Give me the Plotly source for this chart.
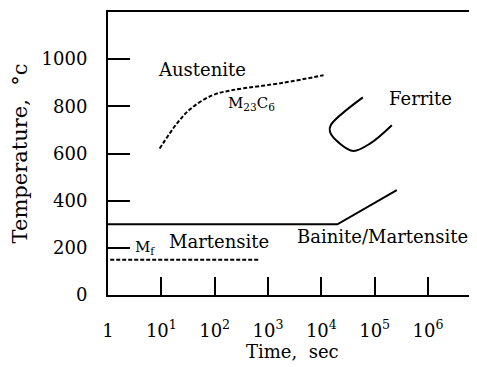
import plotly.graph_objects as go
import numpy as np

# Data (time in seconds, temperature in °C)
ms_time = [1, 2e4, 2.6e5]
ms_temp = [300, 300, 445]

mf_time = [1.1, 700]
mf_temp = [150, 150]

carbide_time = [9.3, 20, 36, 91, 220, 1950, 11000]
carbide_temp = [621, 730, 791, 847, 869, 900, 932]

ferrite_time = [60000, 15000, 14500, 22000, 40000, 83000, 210000]
ferrite_temp = [838, 720, 692, 643, 611, 643, 720]

xtick_vals = [1, 10, 100, 1000, 1e4, 1e5, 1e6]
xtick_text = ["1", "10<sup>1</sup>", "10<sup>2</sup>", "10<sup>3</sup>",
              "10<sup>4</sup>", "10<sup>5</sup>", "10<sup>6</sup>"]
ytick_vals = [0, 200, 400, 600, 800, 1000]

labels = [
    ("Austenite", 58, 955),
    ("Ferrite", 7.2e5, 835),
    ("Martensite", 123, 225),
    ("Bainite/Martensite", 1.4e5, 247),
]

FONT = "DejaVu Serif"

fig = go.Figure()
fig.add_trace(go.Scatter(x=ms_time, y=ms_temp, mode="lines",
                         line=dict(color="black", width=2)))
fig.add_trace(go.Scatter(x=mf_time, y=mf_temp, mode="lines",
                         line=dict(color="black", width=2, dash="4px,2px")))
fig.add_trace(go.Scatter(x=carbide_time, y=carbide_temp, mode="lines",
                         line=dict(color="black", width=2, dash="4px,2px", shape="spline")))
fig.add_trace(go.Scatter(x=ferrite_time, y=ferrite_temp, mode="lines",
                         line=dict(color="black", width=2, shape="spline")))

for txt, x, y in labels:
    fig.add_annotation(x=np.log10(x), y=y, text=txt, showarrow=False,
                       font=dict(family=FONT, size=18, color="black"))
fig.add_annotation(x=np.log10(480), y=813, text="M<sub>23</sub>C<sub>6</sub>", showarrow=False,
                   font=dict(family=FONT, size=15, color="black"))
fig.add_annotation(x=np.log10(5.0), y=200, text="M<sub>f</sub>", showarrow=False,
                   font=dict(family=FONT, size=15, color="black"))
# x-axis title
fig.add_annotation(xref="paper", yref="paper", x=0.5, y=-0.2, yanchor="middle",
                   text="Time,  sec", showarrow=False,
                   font=dict(family=FONT, size=18, color="black"))

# page body adds an 8px offset; margins compensate for it
fig.update_layout(
    width=477, height=367,
    margin=dict(l=100, r=9, t=4, b=80, autoexpand=False),
    plot_bgcolor="white", paper_bgcolor="white",
    showlegend=False,
    font=dict(family=FONT, size=18, color="black"),
)
fig.update_xaxes(
    type="log", range=[0, 6.9],
    tickvals=xtick_vals, ticktext=xtick_text,
    tickfont=dict(family=FONT, size=18),
    ticks="inside", ticklen=18, tickwidth=2, tickcolor="black",
    showline=True, linewidth=2, linecolor="black", mirror=True,
    showgrid=False, zeroline=False, automargin=False,
    ticklabelstandoff=18,
)
fig.update_yaxes(
    range=[0, 1200],
    tickvals=ytick_vals,
    tickfont=dict(family=FONT, size=18),
    ticks="inside", ticklen=22, tickwidth=2, tickcolor="black",
    showline=True, linewidth=2, linecolor="black",
    showgrid=False, zeroline=False, automargin=False,
    ticklabelstandoff=15,
    title=dict(text="Temperature,  °c", font=dict(family=FONT, size=21), standoff=17),
)

fig.write_html("out.html")
